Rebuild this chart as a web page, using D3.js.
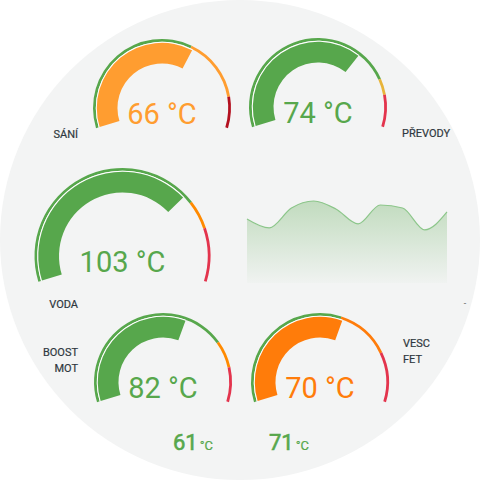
<!DOCTYPE html>
<html>
<head>
<meta charset="utf-8">
<script src="https://cdn.jsdelivr.net/npm/d3@7"></script>
<style>
  body { margin: 0; background: #fff; }
  svg { display: block; font-family: Roboto, "Noto Sans", sans-serif; }
</style>
</head>
<body>
<div id="chart"></div>
<script>
// gauge data
var gaugeLabels = [["SÁNÍ"], ["PŘEVODY"], ["VODA"], ["BOOST", "MOT"], ["VESC", "FET"]];
var gaugeValues = [66, 74, 103, 82, 70];
var gaugeMin = [0, 0, 0, 0, 0];
var gaugeMax = [105, 109, 144, 138, 118];
var warnFrom = [65, 88, 107, 104, 69];
var alertFrom = [92, 95, 120, 119, 94.5];

// history sparkline
var sparkValues = [69.3, 66.6, 72.6, 74.7, 72.3, 67.8, 73.5, 72.6, 66.0, 71.4];
var sparkDomain = [50, 75];

// small readings at the bottom
var bottomValues = [61, 71];

// layout / styling
var W = 480, H = 480;
var layout = [
  {cx: 162, cy: 108, r: 69, label: {x: 78, y: 138, anchor: "end"}, warn: "#ff9d30", alert: "#b3101f"},
  {cx: 318, cy: 107, r: 69, label: {x: 402, y: 137, anchor: "start"}, warn: "#e8b43a", alert: "#e3344d"},
  {cx: 122.5, cy: 256, r: 88, label: {x: 78, y: 308, anchor: "end"}, warn: "#ff8a00", alert: "#e3344d"},
  {cx: 163, cy: 382, r: 69, label: {x: 78, y: 356, anchor: "end"}, warn: "#ff8a00", alert: "#e3344d"},
  {cx: 320, cy: 382, r: 69, label: {x: 403, y: 347, anchor: "start"}, warn: "#ff7c0a", alert: "#e3344d"}
];
var green = "#57a74c";
var sweep = 107 * Math.PI / 180;

var svg = d3.select("#chart")
  .append("svg")
    .attr("width", W)
    .attr("height", H);

// round background
svg.append("circle")
  .attr("cx", W / 2).attr("cy", H / 2).attr("r", W / 2)
  .attr("fill", "#f3f4f4");

gaugeValues.forEach(function(val, i) {
  var L = layout[i];
  var g = svg.append("g").attr("transform", "translate(" + L.cx + "," + L.cy + ")");
  var angle = d3.scaleLinear()
    .domain([gaugeMin[i], gaugeMax[i]])
    .range([-sweep, sweep])
    .clamp(true);

  var segs = [
    {from: gaugeMin[i], to: warnFrom[i], color: green},
    {from: warnFrom[i], to: alertFrom[i], color: L.warn},
    {from: alertFrom[i], to: gaugeMax[i], color: L.alert}
  ];
  var barColor = segs.find(function(s) { return val >= s.from && val < s.to; }) || segs[2];

  // severity ring
  var ring = d3.arc().innerRadius(L.r - 2.8).outerRadius(L.r);
  g.selectAll("path.seg")
    .data(segs)
    .enter().append("path")
      .attr("class", "seg")
      .attr("fill", function(d) { return d.color; })
      .attr("d", function(d) { return ring({startAngle: angle(d.from), endAngle: angle(d.to)}); });

  // white separator along the value bar
  g.append("path")
    .attr("fill", "#ffffff")
    .attr("d", d3.arc().innerRadius(L.r - 3.8).outerRadius(L.r - 2.8)
      ({startAngle: angle(gaugeMin[i]), endAngle: angle(val)}));

  // value bar
  g.append("path")
    .attr("fill", barColor.color)
    .attr("d", d3.arc().innerRadius(L.r - 24.5).outerRadius(L.r - 3.8)
      ({startAngle: angle(gaugeMin[i]), endAngle: angle(val)}));

  // value text
  g.append("text")
    .attr("x", 0).attr("y", 16)
    .attr("text-anchor", "middle")
    .attr("fill", barColor.color)
    .style("font-size", "29px")
    .text(val + " °C");

  // label
  gaugeLabels[i].forEach(function(line, j) {
    svg.append("text")
      .attr("x", L.label.x)
      .attr("y", L.label.y + j * 16)
      .attr("text-anchor", L.label.anchor)
      .attr("fill", "#2f3840")
      .attr("stroke", "#2f3840")
      .attr("stroke-width", 0.2)
      .style("font-size", "11px")
      .text(line);
  });
});

// sparkline
var sx = d3.scaleLinear().domain([0, sparkValues.length - 1]).range([247, 447]);
var sy = d3.scaleLinear().domain(sparkDomain).range([283, 200]);

var grad = svg.append("defs").append("linearGradient")
  .attr("id", "sparkFill").attr("x1", 0).attr("y1", 0).attr("x2", 0).attr("y2", 1);
grad.append("stop").attr("offset", "0%").attr("stop-color", green).attr("stop-opacity", 0.32);
grad.append("stop").attr("offset", "100%").attr("stop-color", green).attr("stop-opacity", 0.02);

svg.append("path")
  .datum(sparkValues)
  .attr("fill", "url(#sparkFill)")
  .attr("d", d3.area()
    .curve(d3.curveMonotoneX)
    .x(function(d, i) { return sx(i); })
    .y0(sy(sparkDomain[0]))
    .y1(function(d) { return sy(d); }));

svg.append("path")
  .datum(sparkValues)
  .attr("fill", "none")
  .attr("stroke", "#8cc68a")
  .attr("stroke-width", 1.2)
  .attr("d", d3.line()
    .curve(d3.curveMonotoneX)
    .x(function(d, i) { return sx(i); })
    .y(function(d) { return sy(d); }));

svg.append("text")
  .attr("x", 465).attr("y", 306)
  .attr("text-anchor", "middle")
  .attr("fill", "#666")
  .style("font-size", "9px")
  .text("-");

// bottom readings
var bx = [173, 269];
bottomValues.forEach(function(v, i) {
  var t = svg.append("text")
    .attr("x", bx[i]).attr("y", 450)
    .attr("fill", green)
    .attr("stroke", green)
    .attr("stroke-width", 0.6)
    .style("font-size", "22px");
  t.append("tspan").text(v);
  t.append("tspan").attr("dx", 2).attr("stroke-width", 0.2).style("font-size", "13px").text("°C");
});
</script>
</body>
</html>
